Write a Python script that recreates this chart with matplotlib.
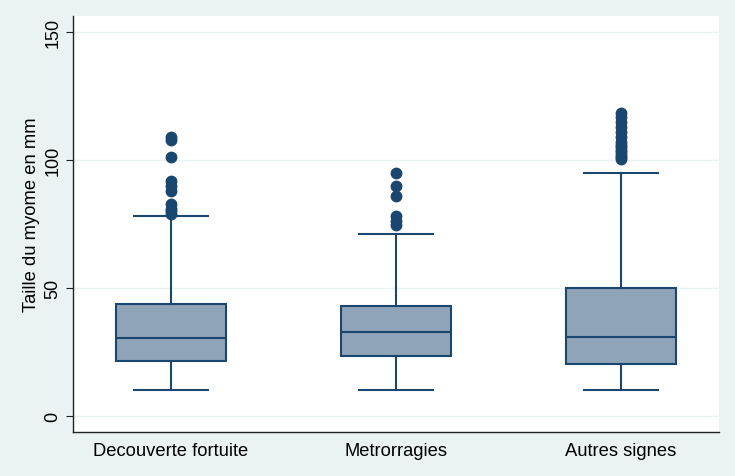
import matplotlib
matplotlib.use("Agg")
import matplotlib.pyplot as plt

categories = ["Decouverte fortuite", "Metrorragies", "Autres signes"]
whisker_low = [10, 10, 10]
q1 = [21.5, 23.3, 20.3]
median = [30.3, 33, 31]
q3 = [43.8, 42.8, 50]
whisker_high = [78, 71, 95]
outliers = [
    [109, 108, 101, 92, 90, 88, 83, 81, 80, 79],
    [95, 90, 86, 78, 76, 74.5],
    [118.5, 117, 115, 113, 111, 109, 107, 106, 105, 104, 103, 102, 101, 100.3],
]

NAVY = "#1a476f"
FILL = "#90a4b9"
BG = "#eaf2f3"

stats = []
for i, name in enumerate(categories):
    stats.append({
        "label": name,
        "whislo": whisker_low[i],
        "q1": q1[i],
        "med": median[i],
        "q3": q3[i],
        "whishi": whisker_high[i],
        "fliers": outliers[i],
    })

fig = plt.figure(figsize=(7.35, 4.77), dpi=100, facecolor=BG)
ax = fig.add_axes([0.0993, 0.0922, 0.8789, 0.872])
ax.set_facecolor("white")

ax.bxp(
    stats,
    positions=[1, 2, 3],
    widths=0.49,
    capwidths=0.33,
    patch_artist=True,
    boxprops=dict(facecolor=FILL, edgecolor=NAVY, linewidth=1.5),
    medianprops=dict(color=NAVY, linewidth=1.5),
    whiskerprops=dict(color=NAVY, linewidth=1.5),
    capprops=dict(color=NAVY, linewidth=1.5),
    flierprops=dict(marker="o", markerfacecolor=NAVY, markeredgecolor=NAVY,
                    markersize=7.5),
    zorder=3,
)

ax.set_xlim(0.564, 3.436)
ax.set_ylim(-6.25, 156.25)
ax.set_yticks([0, 50, 100, 150])
ax.yaxis.grid(True, color="#eaf2f3", linewidth=1.0, zorder=0)
ax.set_axisbelow(True)

for s in ["top", "right"]:
    ax.spines[s].set_visible(False)
for s in ["left", "bottom"]:
    ax.spines[s].set_color("#222222")
    ax.spines[s].set_linewidth(1.0)

ax.tick_params(axis="x", length=0, pad=7, labelsize=13.2)
ax.tick_params(axis="y", length=5, color="#222222", labelsize=13)
for lbl in ax.get_yticklabels():
    lbl.set_rotation(90)
    lbl.set_va("center")
ax.set_ylabel("Taille du myome en mm", fontsize=13.2, va="center")
ax.yaxis.set_label_coords(-0.0635, 0.524)

for t in ax.get_xticklabels() + ax.get_yticklabels() + [ax.yaxis.label]:
    t.set_family(["Liberation Sans", "DejaVu Sans"])

fig.savefig("out.png", dpi=100, facecolor=BG)
